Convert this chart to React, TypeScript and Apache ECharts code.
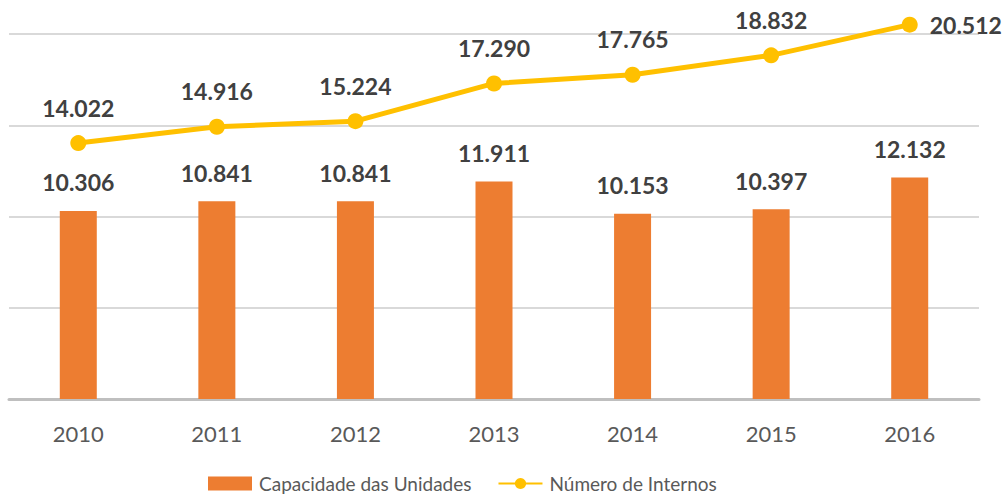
import React, { useEffect, useRef } from "react";
import * as echarts from "echarts";

const years = ["2010", "2011", "2012", "2013", "2014", "2015", "2016"];
const capacidade = [10306, 10841, 10841, 11911, 10153, 10397, 12132];
const internos = [14022, 14916, 15224, 17290, 17765, 18832, 20512];
const seriesNames = ["Capacidade das Unidades", "Número de Internos"];

const fmt = (v: number) => {
  const s = String(Math.round(v));
  return s.replace(/\B(?=(\d{3})+(?!\d))/g, ".");
};

const FONT = "Lato";

export default function App() {
  const ref = useRef<HTMLDivElement>(null);
  useEffect(() => {
    document.body.style.margin = "0";
    const chart = echarts.init(ref.current!, null, { renderer: "svg" });
    chart.setOption({
      animation: false,
      textStyle: { fontFamily: FONT },
      grid: { left: 9, right: 24, top: 34, bottom: 96, containLabel: false },
      legend: {
        bottom: 2,
        left: 208,
        padding: 0,
        itemGap: 26,
        itemWidth: 44,
        itemHeight: 14,
        textStyle: { fontFamily: FONT, fontSize: 19, color: "#595959", padding: [0, 0, 0, 2] },
        data: [
          { name: seriesNames[0], icon: "rect" },
          { name: seriesNames[1] },
        ],
      },
      xAxis: {
        type: "category",
        data: years,
        axisLine: { lineStyle: { color: "#bfbfbf", width: 3 } },
        axisTick: { show: false },
        axisLabel: { fontFamily: FONT, fontSize: 22, color: "#595959", margin: 23 },
      },
      yAxis: {
        type: "value",
        min: 0,
        max: 20000,
        interval: 5000,
        axisLabel: { show: false },
        axisLine: { show: false },
        axisTick: { show: false },
        splitLine: { lineStyle: { color: "#d9d9d9", width: 2 } },
      },
      series: [
        {
          name: seriesNames[0],
          type: "bar",
          data: capacidade,
          barWidth: 37,
          itemStyle: { color: "#ED7D31" },
          label: {
            show: true,
            position: "top",
            distance: 17,
            formatter: (p: any) => fmt(p.value),
            fontFamily: FONT,
            fontSize: 23,
            fontWeight: "bold",
            color: "#404040",
          },
        },
        {
          name: seriesNames[1],
          type: "line",
          data: internos.map((v, i) =>
            i === internos.length - 1
              ? { value: v, label: { position: "right", distance: 12 } }
              : v
          ),
          clip: false,
          symbol: "circle",
          symbolSize: 16,
          lineStyle: { color: "#FFC000", width: 5 },
          itemStyle: { color: "#FFC000" },
          label: {
            show: true,
            position: "top",
            distance: 16,
            formatter: (p: any) => fmt(p.value),
            fontFamily: FONT,
            fontSize: 23,
            fontWeight: "bold",
            color: "#404040",
          },
        },
      ],
    });
    return () => chart.dispose();
  }, []);
  return <div ref={ref} style={{ width: 1003, height: 495 }} />;
}
